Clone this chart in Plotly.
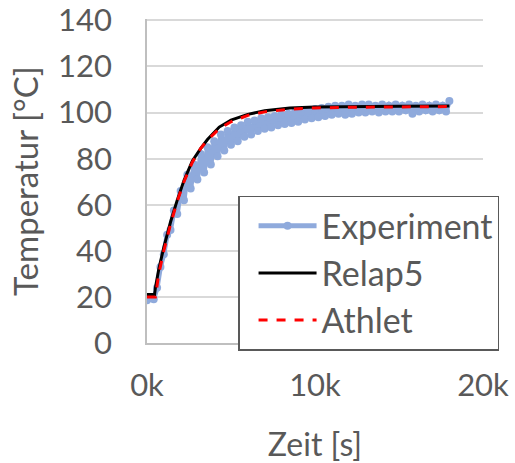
import plotly.graph_objects as go

# Measured thermocouple temperature (s, °C), sampled every 200 s
exp_time = [0, 200, 400, 600, 800, 1000, 1200, 1400, 1600, 1800,
            2000, 2200, 2400, 2600, 2800, 3000, 3200, 3400, 3600, 3800,
            4000, 4200, 4400, 4600, 4800, 5000, 5200, 5400, 5600, 5800,
            6000, 6200, 6400, 6600, 6800, 7000, 7200, 7400, 7600, 7800,
            8000, 8200, 8400, 8600, 8800, 9000, 9200, 9400, 9600, 9800,
            10000, 10200, 10400, 10600, 10800, 11000, 11200, 11400, 11600, 11800,
            12000, 12200, 12400, 12600, 12800, 13000, 13200, 13400, 13600, 13800,
            14000, 14200, 14400, 14600, 14800, 15000, 15200, 15400, 15600, 15800,
            16000, 16200, 16400, 16600, 16800, 17000, 17200, 17400, 17600, 17800,
            18000]
exp_temp = [18.5, 19.5, 19, 24, 33, 38.5, 47, 49, 57.5, 56,
            66, 62, 73, 67, 77.5, 71, 82, 74, 85, 77.5,
            87.5, 81, 90.5, 83.5, 92, 86, 93.5, 87.5, 94.5, 89.5,
            96, 90.5, 96.5, 92, 97.5, 93, 98, 93.5, 98.5, 94.5,
            99, 95, 99.5, 95.5, 100, 96, 100.5, 97, 101, 97.5,
            101.5, 98, 102, 98.5, 102.5, 99, 103, 99.5, 103, 99,
            103.5, 99.5, 103, 100, 103.5, 100, 103.5, 100.5, 103, 100,
            103.5, 100.5, 103, 100.5, 103.5, 100.5, 103, 101, 103.5, 99.5,
            103, 100.5, 103.5, 101, 103, 100.5, 103.5, 101, 103, 100.5,
            105]

# Relap5 simulation
relap_time = [0, 450, 500, 700, 1000, 1400, 1800, 2200, 2700, 3200, 3600, 4300, 5000,
              6000, 7000, 8500, 10000, 12000, 15000, 18000]
relap_temp = [21, 21, 24, 32, 41.5, 52.5, 62, 70.5, 79, 84.5, 88.3, 93.7, 96.7,
              99.2, 100.8, 102, 102.4, 102.6, 102.7, 102.8]

# Athlet simulation
athlet_time = [0, 500, 700, 1000, 1400, 1800, 2200, 2700, 3200, 3600, 4300, 5000,
               6000, 7000, 8500, 10000, 12000, 15000, 18000]
athlet_temp = [20, 20, 30, 40, 51.5, 61.5, 70, 78.5, 84.5, 88, 93, 96,
               98.8, 100.3, 101.5, 102, 102.3, 102.5, 102.6]

x_ticks = [0, 10000, 20000]
x_tick_labels = ["0k", "10k", "20k"]
y_ticks = [0, 20, 40, 60, 80, 100, 120, 140]

FONT = "Lato"
TEXT = "#595959"

fig = go.Figure()
fig.add_trace(go.Scatter(
    x=exp_time, y=exp_temp, mode="lines+markers", name="Experiment",
    line=dict(color="#8FAADC", width=5),
    marker=dict(color="#8FAADC", size=8),
))
fig.add_trace(go.Scatter(
    x=relap_time, y=relap_temp, mode="lines", name="Relap5",
    line=dict(color="#000000", width=3),
))
fig.add_trace(go.Scatter(
    x=athlet_time, y=athlet_temp, mode="lines", name="Athlet",
    line=dict(color="#FF0000", width=3, dash="dash"),
))

fig.update_layout(
    width=515, height=463,
    margin=dict(l=147, r=32, t=19, b=120, autoexpand=False),
    paper_bgcolor="white", plot_bgcolor="white",
    font=dict(family=FONT, color=TEXT, size=31),
    showlegend=True,
    legend=dict(
        x=0.271, y=0.455, xanchor="left", yanchor="top",
        bgcolor="white", bordercolor="#595959", borderwidth=1.5,
        font=dict(family=FONT, size=34, color=TEXT),
        itemwidth=58, indentation=14,
    ),
    xaxis=dict(
        range=[0, 20000], tickvals=x_ticks, ticktext=x_tick_labels,
        showgrid=False, zeroline=False,
        showline=True, linecolor="#BFBFBF", linewidth=1.5,
        ticks="", ticklabelstandoff=14,
        tickfont=dict(size=31, color=TEXT),
        title=dict(text="Zeit [s]", font=dict(size=32, color=TEXT), standoff=32),
    ),
    yaxis=dict(
        # a hair above 140 so the top gridline and its label are kept
        range=[0, 140.6], tickvals=y_ticks,
        showgrid=True, gridcolor="#D9D9D9", gridwidth=1.5, zeroline=False,
        showline=True, linecolor="#BFBFBF", linewidth=1.5,
        ticks="", ticklabelstandoff=27,
        tickfont=dict(size=31, color=TEXT),
        title=dict(text="Temperatur [°C]", font=dict(size=33, color=TEXT), standoff=10),
    ),
)

fig.write_html("out.html")
